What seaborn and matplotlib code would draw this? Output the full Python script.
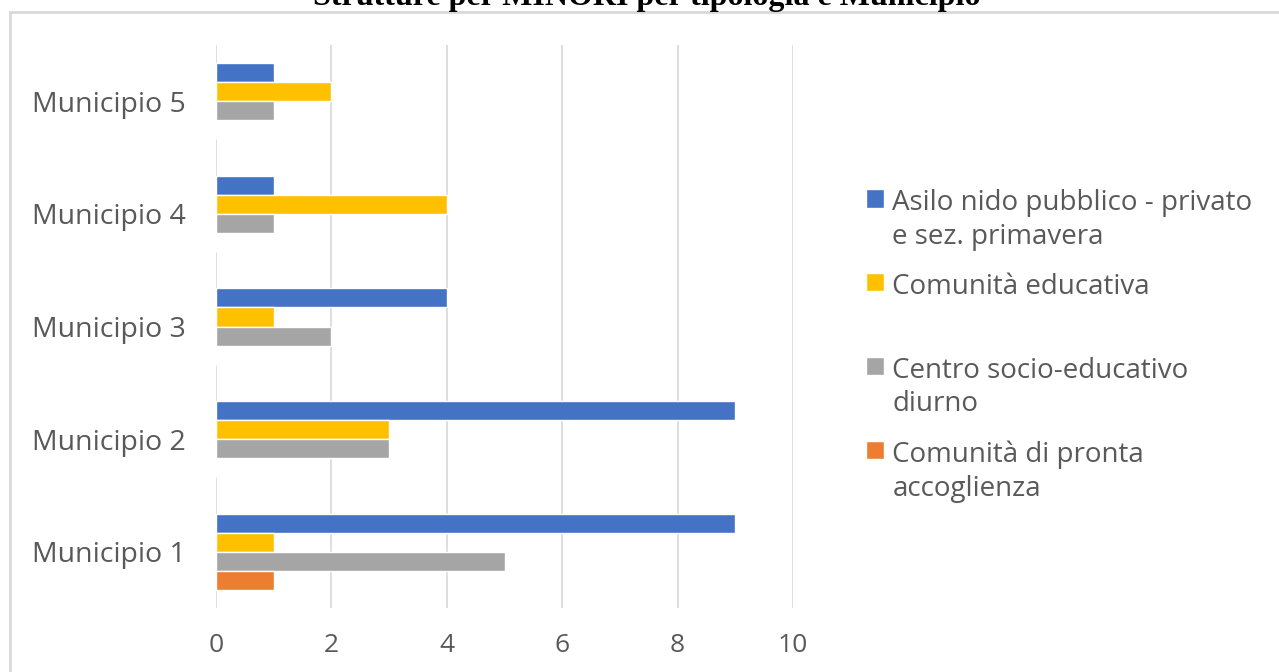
import pandas as pd
import seaborn as sns
import matplotlib.pyplot as plt
from matplotlib.patches import Rectangle

# Dati
municipi = ["Municipio 1", "Municipio 2", "Municipio 3", "Municipio 4", "Municipio 5"]
tipologie = [
    "Asilo nido pubblico - privato\ne sez. primavera",
    "Comunità educativa\n ",
    "Centro socio-educativo\ndiurno",
    "Comunità di pronta\naccoglienza",
]
asilo_nido = [9, 9, 4, 1, 1]
comunita_educativa = [1, 3, 1, 4, 2]
centro_diurno = [5, 3, 2, 1, 1]
pronta_accoglienza = [1, 0, 0, 0, 0]
colori = ["#4472C4", "#FFC000", "#A5A5A5", "#ED7D31"]
x_ticks = [0, 2, 4, 6, 8, 10]

rows = []
for serie, valori in zip(tipologie, [asilo_nido, comunita_educativa, centro_diurno, pronta_accoglienza]):
    for m, v in zip(municipi, valori):
        rows.append({"Municipio": m, "Tipologia": serie, "Numero": v})
df = pd.DataFrame(rows)

sns.set_style("white")
plt.rcParams["font.family"] = ["Open Sans", "DejaVu Sans"]
testo = "#595959"
griglia = "#D9D9D9"

fig = plt.figure(figsize=(12.79, 6.72), dpi=100)
ax = fig.add_axes([216 / 1279, 1 - 608 / 672, (793 - 216) / 1279, (608 - 45) / 672])

sns.barplot(data=df, y="Municipio", x="Numero", hue="Tipologia",
            order=municipi[::-1], hue_order=tipologie, palette=colori,
            width=0.675, gap=0, saturation=1, orient="h", ax=ax)

ax.set_xlim(0, 10)
ax.set_xticks(x_ticks)
ax.set_ylim(4.5, -0.5)
ax.set_xlabel("")
ax.set_ylabel("")
ax.grid(axis="x", color=griglia, linewidth=1.2)
ax.set_axisbelow(True)
for s in ax.spines.values():
    s.set_visible(False)
ax.tick_params(axis="x", length=0, pad=18, labelsize=19, labelcolor=testo)
ax.tick_params(axis="y", length=0, pad=22, labelsize=20.5, labelcolor=testo)

leg = ax.legend(loc="upper left", bbox_to_anchor=(866 / 1279, 1 - 189 / 672),
                bbox_transform=fig.transFigure, frameon=False, fontsize=20,
                handlelength=0.65, handleheight=0.65, handletextpad=0.3,
                labelspacing=0.8, borderpad=0, borderaxespad=0)
for t in leg.get_texts():
    t.set_color(testo)
    t.set_linespacing(1.27)
# allinea il quadratino alla prima riga del testo
for hp in leg._legend_handle_box.get_children()[0].get_children():
    hp.align = "top"

# cornice del grafico
fig.patches.append(Rectangle((10 / 1279, -0.1), 1.2, 1 - 12 / 672 + 0.1,
                             transform=fig.transFigure, fill=False,
                             edgecolor=griglia, linewidth=2))

fig.text(647 / 1279, 1 - 5 / 672, "Strutture per MINORI per tipologia e Municipio",
         ha="center", va="baseline", fontsize=23, fontweight="bold",
         family="Liberation Serif", color="black")

fig.savefig("out.png", dpi=100)
